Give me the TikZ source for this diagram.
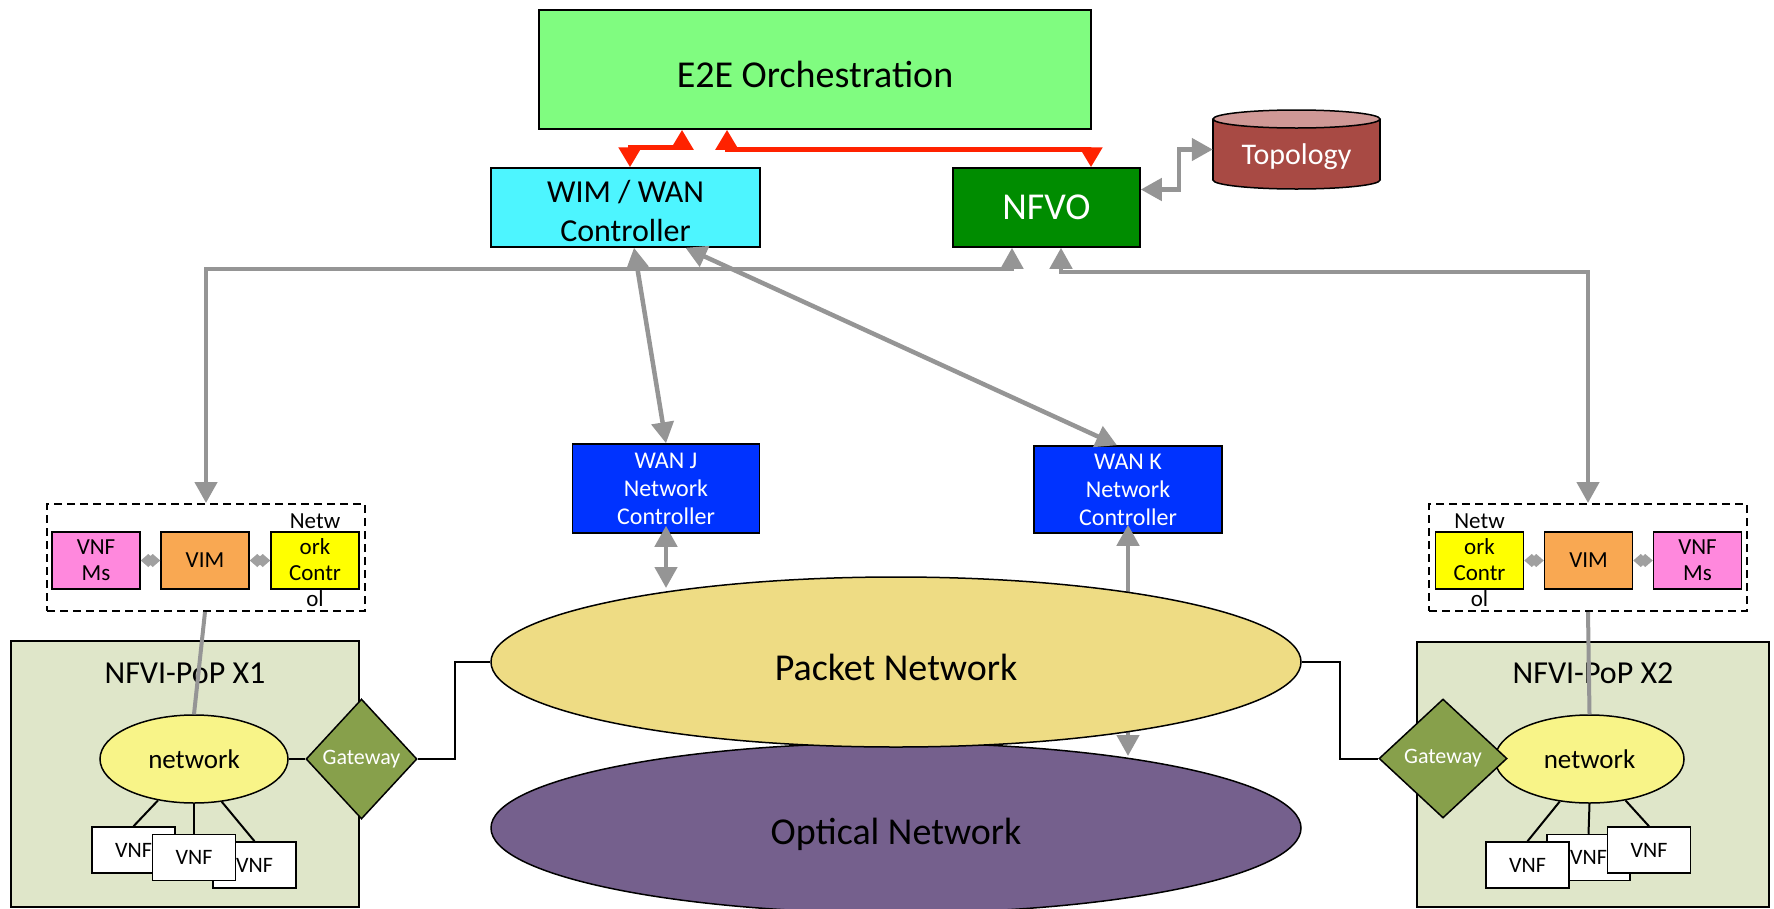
\documentclass[tikz,border=0pt]{standalone}
\usepackage{fontspec}
\setmainfont{Carlito}
\usetikzlibrary{arrows.meta,shapes.geometric,calc}
\definecolor{e2ec}{HTML}{80FC80}
\definecolor{wimc}{HTML}{4DF5FF}
\definecolor{nfvoc}{HTML}{008C00}
\definecolor{topobody}{HTML}{A84A44}
\definecolor{topotop}{HTML}{CF9896}
\definecolor{wanc}{HTML}{0033FF}
\definecolor{vnfmc}{HTML}{FF88DD}
\definecolor{vimc}{HTML}{F9A852}
\definecolor{ncc}{HTML}{FFFF00}
\definecolor{popc}{HTML}{DFE6C9}
\definecolor{netc}{HTML}{F8F488}
\definecolor{gwc}{HTML}{87A04B}
\definecolor{packetc}{HTML}{EEDC84}
\definecolor{opticalc}{HTML}{75608D}
\definecolor{grayc}{HTML}{959595}
\definecolor{dgray}{HTML}{A0A0A0}
\definecolor{redc}{HTML}{FF2200}
\begin{document}
\begin{tikzpicture}[x=1pt,y=-1pt,
  box/.style={draw=black,line width=1.5pt,inner sep=0pt,align=center},
  plain/.style={inner sep=0pt,align=center},
  fA/.style={font=\fontsize{38}{45}\selectfont},
  fB/.style={font=\fontsize{32}{39}\selectfont},
  fC/.style={font=\fontsize{30}{36}\selectfont},
  fD/.style={font=\fontsize{24}{28}\selectfont},
  fE/.style={font=\fontsize{23}{26}\selectfont},
  fF/.style={font=\fontsize{27}{32}\selectfont},
  fG/.style={font=\fontsize{22}{26}\selectfont},
  garrow/.style={draw=grayc,line width=4.5pt,arrows={Triangle[length=21pt,width=22pt]-Triangle[length=21pt,width=22pt]}},
  rarrow/.style={draw=redc,line width=5pt,arrows={Triangle[length=20pt,width=22pt]-Triangle[length=20pt,width=22pt]}},
  dlink/.style={draw=dgray,line width=3pt,arrows={Diamond[length=15pt,width=13pt]-Diamond[length=15pt,width=13pt]}},
  gline/.style={draw=grayc,line width=4pt},
  bline/.style={draw=black,line width=2pt},
  dashbox/.style={draw=black,line width=2pt,dash pattern=on 8pt off 5pt,inner sep=0pt},
  smallbox/.style={box,minimum width=88pt,minimum height=57pt,fE},
  vnfbox/.style={box,fill=white,minimum width=83pt,minimum height=46pt,fG},
  ell/.style={ellipse,draw=black,line width=1.5pt,inner sep=0pt},
  gw/.style={diamond,draw=black,line width=1.5pt,fill=gwc,inner sep=0pt,text=white,fG}
]
\useasboundingbox (0,0) rectangle (1774,908);

% top level boxes
\node[box,fill=e2ec,minimum width=552pt,minimum height=119pt] (e2e) at (815,69.5) {};
\node[plain,fA] (e2et) at (815,74) {E2E Orchestration};
\node[box,fill=wimc,minimum width=269pt,minimum height=79pt] (wim) at (625.5,207.5) {};
\node[plain,fB] (wimt) at (625.5,211) {WIM / WAN\\Controller};
\node[box,fill=nfvoc,minimum width=187pt,minimum height=79pt,fA,text=white] (nfvo) at (1046.5,207.5) {NFVO};

% topology cylinder
\node[ell,fill=topobody,minimum width=167pt,minimum height=18pt] (topobot) at (1296.5,180) {};
\fill[topobody] (1213,119) rectangle (1380,180);
\draw[line width=1.5pt] (1213,119) -- (1213,180) (1380,119) -- (1380,180);
\node[ell,fill=topotop,minimum width=167pt,minimum height=18pt] (topotop) at (1296.5,119) {};
\node[plain,minimum width=167pt,minimum height=61pt] (topo) at (1296.5,149.5) {};
\node[plain,text=white,fC] (topotext) at (1296.5,157) {Topology};

% red arrows
\draw[rarrow] ([xshift=4.5pt]wim.north) -- ++(0,-20) -| ([xshift=-133pt]e2e.south);
\draw[rarrow] ([xshift=-88pt]e2e.south) -- ++(0,20) -| ([xshift=44.5pt]nfvo.north);

% topology link
\draw[garrow] ([yshift=18pt]nfvo.east) -- ++(38,0) |- (topo.west);

% WAN controllers
\node[box,fill=wanc,minimum width=187pt,minimum height=89pt,fD,text=white] (wanj) at (666,488.5) {WAN J\\Network\\Controller};
\node[box,fill=wanc,minimum width=188pt,minimum height=87pt,fD,text=white] (wank) at (1128,489.5) {WAN K\\Network\\Controller};

% dashed boxes
\node[dashbox,minimum width=318pt,minimum height=107pt] (dashL) at (206,557.5) {};
\node[dashbox,minimum width=318pt,minimum height=107pt] (dashR) at (1588,557.5) {};

% gray arrows from WIM and NFVO
\draw[garrow] ([xshift=8.5pt]wim.south) -- (wanj.north);
\draw[garrow] ([xshift=60pt]wim.south) -- ([xshift=-11pt]wank.north);
\draw[garrow] ([xshift=-34.5pt]nfvo.south) -- ++(0,21) -| (dashL.north);
\draw[garrow] ([xshift=14.5pt]nfvo.south) -- ++(0,24) -| (dashR.north);

% left management boxes
\node[smallbox,fill=vnfmc] (vnfmL) at (96,560.5) {VNF\\Ms};
\node[smallbox,fill=vimc] (vimL) at (205,560.5) {VIM};
\node[smallbox,fill=ncc] (ncL) at (315,560.5) {};
\node[plain,fE] (ncLt) at (315,560.5) {Netw\\ork\\Contr\\ol};
\draw[dlink] (vnfmL.east) -- (vimL.west);
\draw[dlink] (vimL.east) -- (ncL.west);

% right management boxes
\node[smallbox,fill=ncc] (ncR) at (1479.5,560.5) {};
\node[plain,fE] (ncRt) at (1479.5,560.5) {Netw\\ork\\Contr\\ol};
\node[smallbox,fill=vimc] (vimR) at (1588.5,560.5) {VIM};
\node[smallbox,fill=vnfmc] (vnfmR) at (1697.5,560.5) {VNF\\Ms};
\draw[dlink] (ncR.east) -- (vimR.west);
\draw[dlink] (vimR.east) -- (vnfmR.west);

% optical and packet networks
\node[ell,fill=opticalc,minimum width=810pt,minimum height=170pt] (optical) at (896,828) {};
\node[plain,fA] (opticalt) at (896,834) {Optical Network};
\coordinate (optk) at (1128,756);
\draw[garrow] ([yshift=9pt]wank.south) -- (optk);
\node[ell,fill=packetc,minimum width=810pt,minimum height=170pt] (packet) at (896,662) {};
\node[plain,fA] (packett) at (896,667) {Packet Network};
\coordinate (pktj) at (666,588);
\draw[garrow] ([yshift=8pt]wanj.south) -- (pktj);

% NFVI-PoP X1
\node[box,fill=popc,minimum width=348pt,minimum height=266pt] (popL) at (185,774) {};
\node[plain,fB] (popLt) at (185,673) {NFVI-PoP X1};
\node[ell,fill=netc,minimum width=188pt,minimum height=88pt,fF] (netL) at (194,759) {network};
\node[vnfbox] (v1) at (133.5,850) {VNF};
\node[vnfbox] (v3) at (254.5,865) {VNF};
\node[vnfbox] (v2) at (194,857.5) {VNF};
\draw[bline] (netL.229) -- (v1.north);
\draw[bline] (netL.south) -- (v2.north);
\draw[bline] (netL.303) -- (v3.north);
\node[gw,minimum width=111pt,minimum height=120pt] (gwL) at (361.5,759) {Gateway};
\draw[bline] (netL.east) -- (gwL.west);
\draw[bline] (gwL.east) -- ++(37,0) |- (packet.west);
\draw[gline] ([xshift=-1pt]dashL.south) -- (netL.north);

% NFVI-PoP X2
\node[box,fill=popc,minimum width=352pt,minimum height=265pt] (popR) at (1593,774.5) {};
\node[plain,fB] (popRt) at (1593,673) {NFVI-PoP X2};
\node[ell,fill=netc,minimum width=189pt,minimum height=88pt,fF] (netR) at (1589.5,759) {network};
\node[vnfbox] (vb) at (1588.5,857.5) {VNF};
\node[vnfbox] (va) at (1527.5,865) {VNF};
\node[vnfbox] (vc) at (1649,850) {VNF};
\draw[bline] (netR.235) -- (va.north);
\draw[bline] (netR.south) -- (vb.north);
\draw[bline] (netR.311) -- (vc.north);
\node[gw,minimum width=128pt,minimum height=119pt] (gwR) at (1443,758.5) {Gateway};
\draw[bline] (packet.east) -- ++(38,0) |- (gwR.west);
\draw[gline] (dashR.south) -- (netR.north);
\end{tikzpicture}
\end{document}
